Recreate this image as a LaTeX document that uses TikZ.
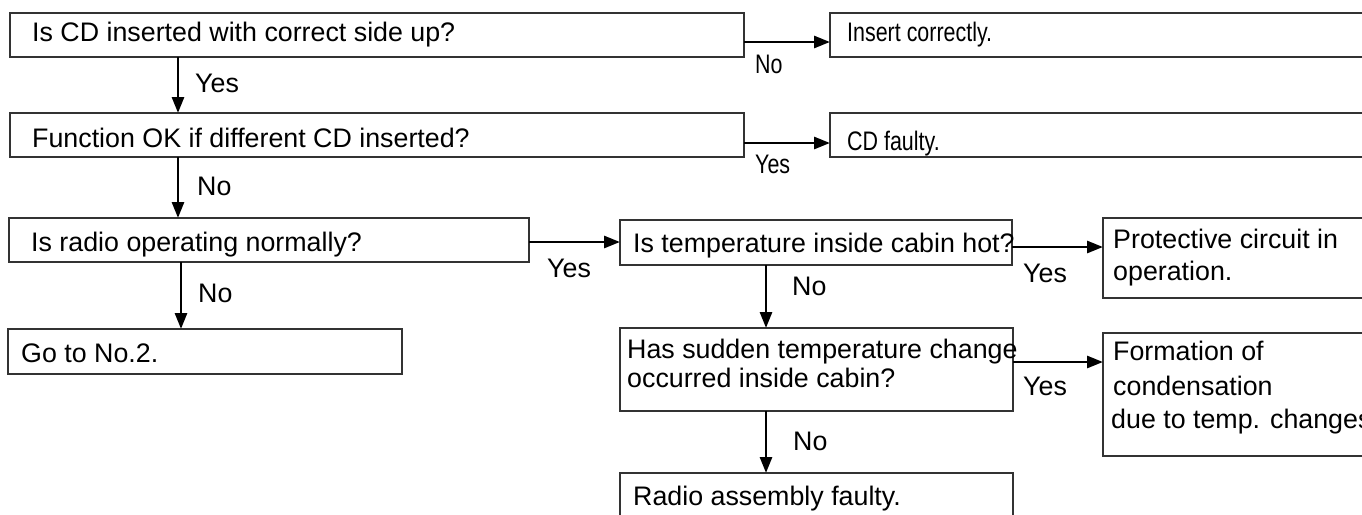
\documentclass[tikz,border=0pt]{standalone}
\usepackage{fontspec}
\usepackage{graphicx}
\setmainfont{Liberation Sans}
\usetikzlibrary{arrows.meta,calc}
\newcommand{\narrowtxt}[1]{\scalebox{0.8}[1]{#1}}
\begin{document}
\begin{tikzpicture}[x=1pt,y=-1pt,
  box/.style={draw=black!80, line width=1.4pt, inner sep=0pt, outer sep=0pt, anchor=north west},
  txt/.style={anchor=base west, inner sep=0pt, font=\fontsize{26.8}{30}\selectfont},
  arr/.style={line width=2.8pt, -{Triangle[length=16pt,width=12pt]}}]
\clip (0,0) rectangle (1362,514);
\fill[white] (0,0) rectangle (1362,514);
% boxes
\node[box, minimum width=734pt, minimum height=44pt] (A) at (10,13) {};
\node[box, minimum width=560pt, minimum height=44pt] (B) at (830,13) {};
\node[box, minimum width=734pt, minimum height=44pt] (C) at (10,113) {};
\node[box, minimum width=560pt, minimum height=44pt] (D) at (830,113) {};
\node[box, minimum width=520pt, minimum height=44pt] (E) at (9,218) {};
\node[box, minimum width=394pt, minimum height=45pt] (F) at (8,329) {};
\node[box, minimum width=392pt, minimum height=45pt] (G) at (620,220) {};
\node[box, minimum width=393pt, minimum height=83pt] (H) at (620,328) {};
\node[box, minimum width=393pt, minimum height=60pt] (I) at (620,473) {};
\node[box, minimum width=300pt, minimum height=80pt] (J) at (1103,218) {};
\node[box, minimum width=300pt, minimum height=123pt] (K) at (1103,333) {};
% texts
\node[txt] (tA) at (32,41) {Is CD inserted with correct side up?};
\node[txt] (tB) at (847,41) {\narrowtxt{Insert correctly.}};
\node[txt] (tC) at (32,147) {Function OK if different CD inserted?};
\node[txt] (tD) at (847,150) {\narrowtxt{CD faulty.}};
\node[txt] (tE) at (31,251) {Is radio operating normally?};
\node[txt] (tF) at (21,362) {Go to No.2.};
\node[txt] (tG) at (633,252) {Is temperature inside cabin hot?};
\node[txt] (tH1) at (627,358) {Has sudden temperature change};
\node[txt] (tH2) at (627,387) {occurred inside cabin?};
\node[txt] (tI) at (633,505) {Radio assembly faulty.};
\node[txt] (tJ1) at (1113,248) {Protective circuit in};
\node[txt] (tJ2) at (1113,280) {operation.};
\node[txt] (tK1) at (1113,360) {Formation of};
\node[txt] (tK2) at (1113,395) {condensation};
\node[txt] (tK3) at (1111,428) {due to temp. changes};
% connectors
\draw[arr] ($(A.south west)+(168,0)$) coordinate (a1) -- (a1 |- C.north);
\draw[arr] ($(C.south west)+(168,0)$) coordinate (c1) -- (c1 |- E.north);
\draw[arr] ($(E.south west)+(172,0)$) coordinate (e1) -- (e1 |- F.north);
\draw[arr] ($(G.south west)+(146,0)$) coordinate (g1) -- (g1 |- H.north);
\draw[arr] ($(H.south west)+(146,0)$) coordinate (h1) -- (h1 |- I.north);
\draw[arr] ($(A.north east)+(0,29)$) coordinate (a2) -- (a2 -| B.west);
\draw[arr] ($(C.north east)+(0,30)$) coordinate (c2) -- (c2 -| D.west);
\draw[arr] ($(E.north east)+(0,24)$) coordinate (e2) -- (e2 -| G.west);
\draw[arr] ($(G.north east)+(0,27)$) coordinate (g2) -- (g2 -| J.west);
\draw[arr] ($(H.north east)+(0,34)$) coordinate (h2) -- (h2 -| K.west);
% labels
\node[txt] (l1) at (195,92) {Yes};
\node[txt] (l2) at (197,195) {No};
\node[txt] (l3) at (198,302) {No};
\node[txt] (l4) at (547,277) {Yes};
\node[txt] (l5) at (792,295) {No};
\node[txt] (l6) at (793,450) {No};
\node[txt] (l7) at (1023,282) {Yes};
\node[txt] (l8) at (1023,395) {Yes};
\node[txt] (l9) at (755,73) {\narrowtxt{No}};
\node[txt] (l10) at (755,173) {\narrowtxt{Yes}};
\end{tikzpicture}
\end{document}
